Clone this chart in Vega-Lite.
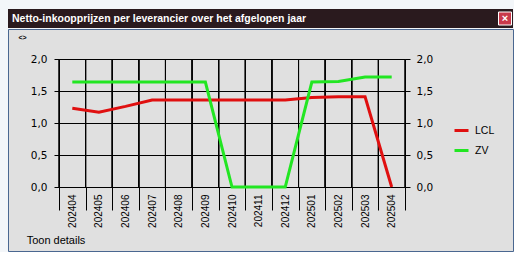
{
  "$schema": "https://vega.github.io/schema/vega-lite/v6.json",
  "background": "#f3f6f9",
  "padding": {"left": 2, "top": 9, "right": 0, "bottom": 0},
  "spacing": 0,
  "config": {"font": "Liberation Sans"},
  "vconcat": [
    {
      "width": 505,
      "height": 19,
      "view": {"fill": "#2a1a1e", "stroke": null},
      "data": {"values": [{"titel": "Netto-inkoopprijzen per leverancier over het afgelopen jaar", "knop": "×"}]},
      "layer": [
        {
          "mark": {"type": "text", "align": "left", "baseline": "middle", "dx": 4, "color": "#ffffff", "font": "Liberation Sans", "fontWeight": "bold", "fontSize": 10.5},
          "encoding": {
            "x": {"datum": 0, "type": "quantitative", "scale": {"domain": [0, 1], "nice": false}, "axis": null},
            "text": {"field": "titel"}
          }
        },
        {
          "mark": {"type": "square", "filled": true, "color": "#c8394b", "stroke": "#ffffff", "strokeWidth": 1, "size": 169, "opacity": 1, "xOffset": -8},
          "encoding": {
            "x": {"datum": 1, "type": "quantitative", "scale": {"domain": [0, 1], "nice": false}, "axis": null}
          }
        },
        {
          "mark": {"type": "text", "align": "center", "baseline": "middle", "dx": -8, "color": "#ffffff", "fontWeight": "bold", "fontSize": 11},
          "encoding": {
            "x": {"datum": 1, "type": "quantitative", "scale": {"domain": [0, 1], "nice": false}, "axis": null},
            "text": {"field": "knop"}
          }
        }
      ]
    },
    {
      "width": 505,
      "height": 222,
      "view": {"fill": "#e0e0e0", "stroke": "#4a6790", "strokeWidth": 1},
      "data": {"values": [
        {"maand": "202404", "leverancier": "LCL", "prijs": 1.23},
        {"maand": "202405", "leverancier": "LCL", "prijs": 1.17},
        {"maand": "202406", "leverancier": "LCL", "prijs": 1.26},
        {"maand": "202407", "leverancier": "LCL", "prijs": 1.36},
        {"maand": "202408", "leverancier": "LCL", "prijs": 1.36},
        {"maand": "202409", "leverancier": "LCL", "prijs": 1.36},
        {"maand": "202410", "leverancier": "LCL", "prijs": 1.36},
        {"maand": "202411", "leverancier": "LCL", "prijs": 1.36},
        {"maand": "202412", "leverancier": "LCL", "prijs": 1.36},
        {"maand": "202501", "leverancier": "LCL", "prijs": 1.40},
        {"maand": "202502", "leverancier": "LCL", "prijs": 1.41},
        {"maand": "202503", "leverancier": "LCL", "prijs": 1.41},
        {"maand": "202504", "leverancier": "LCL", "prijs": 0.0},
        {"maand": "202404", "leverancier": "ZV", "prijs": 1.64},
        {"maand": "202405", "leverancier": "ZV", "prijs": 1.64},
        {"maand": "202406", "leverancier": "ZV", "prijs": 1.64},
        {"maand": "202407", "leverancier": "ZV", "prijs": 1.64},
        {"maand": "202408", "leverancier": "ZV", "prijs": 1.64},
        {"maand": "202409", "leverancier": "ZV", "prijs": 1.64},
        {"maand": "202410", "leverancier": "ZV", "prijs": 0.0},
        {"maand": "202411", "leverancier": "ZV", "prijs": 0.0},
        {"maand": "202412", "leverancier": "ZV", "prijs": 0.0},
        {"maand": "202501", "leverancier": "ZV", "prijs": 1.64},
        {"maand": "202502", "leverancier": "ZV", "prijs": 1.65},
        {"maand": "202503", "leverancier": "ZV", "prijs": 1.72},
        {"maand": "202504", "leverancier": "ZV", "prijs": 1.72}
      ]},
      "layer": [
        {
          "mark": {"type": "rule", "color": "#000000", "strokeWidth": 1},
          "encoding": {
            "x": {"field": "maand", "type": "ordinal", "bandPosition": 0},
            "y": {"datum": 0, "type": "quantitative", "axis": null},
            "y2": {"datum": 2}
          }
        },
        {
          "mark": {"type": "rule", "color": "#000000", "strokeWidth": 1},
          "encoding": {
            "x": {"field": "maand", "type": "ordinal", "bandPosition": 1},
            "y": {"datum": 0, "type": "quantitative", "axis": null},
            "y2": {"datum": 2}
          }
        },
        {
          "mark": {"type": "line", "strokeWidth": 3},
          "encoding": {
            "x": {"field": "maand", "type": "ordinal"},
            "y": {
              "field": "prijs",
              "type": "quantitative",
              "axis": {
                "orient": "left",
                "offset": -51,
                "values": [0, 0.5, 1, 1.5, 2],
                "labelExpr": "replace(format(datum.value, '.1f'), '.', ',')",
                "labelFont": "DejaVu Sans",
                "labelFontSize": 10.5,
                "labelColor": "#000000",
                "labelPadding": 7,
                "tickSize": 5,
                "tickColor": "#000000",
                "domainColor": "#000000",
                "grid": true,
                "gridColor": "#000000",
                "gridOpacity": 1,
                "title": "<>",
                "titleAngle": 0,
                "titleX": -37,
                "titleY": 8.5,
                "titleAlign": "center",
                "titleBaseline": "middle",
                "titleFontSize": 7,
                "titleFontWeight": "bold",
                "titleColor": "#000000"
              }
            },
            "color": {
              "field": "leverancier",
              "type": "nominal",
              "scale": {"domain": ["LCL", "ZV"], "range": ["#e01010", "#22e622"]},
              "legend": {
                "title": null,
                "orient": "none",
                "legendX": 445,
                "legendY": 113,
                "padding": 0,
                "symbolType": "stroke",
                "symbolSize": 196,
                "symbolStrokeWidth": 3,
                "labelOffset": 5,
                "labelFont": "Liberation Sans",
                "labelFontSize": 10.5,
                "labelColor": "#000000",
                "rowPadding": 5
              }
            }
          }
        },
        {
          "mark": {"type": "line", "strokeWidth": 3, "opacity": 0},
          "encoding": {
            "x": {"field": "maand", "type": "ordinal"},
            "y": {
              "field": "prijs",
              "type": "quantitative",
              "axis": {
                "orient": "right",
                "offset": -108,
                "values": [0, 0.5, 1, 1.5, 2],
                "labelExpr": "replace(format(datum.value, '.1f'), '.', ',')",
                "labelFont": "DejaVu Sans",
                "labelFontSize": 10.5,
                "labelColor": "#000000",
                "labelPadding": 6,
                "tickSize": 5,
                "tickColor": "#000000",
                "domainColor": "#000000",
                "grid": false,
                "title": null
              }
            }
          }
        }
      ],
      "encoding": {
        "x": {
          "field": "maand",
          "type": "ordinal",
          "scale": {"type": "band", "paddingInner": 0, "paddingOuter": 0, "range": [51, 397]},
          "axis": {
            "offset": -64,
            "title": "Toon details",
            "titleX": 47.5,
            "titleY": 53,
            "titleAlign": "center",
            "titleBaseline": "middle",
            "titleFont": "Liberation Sans",
            "titleFontSize": 11,
            "titleFontWeight": "normal",
            "titleColor": "#000000",
            "labelAngle": -90,
            "labelFont": "Liberation Sans",
            "labelFontSize": 10,
            "labelColor": "#000000",
            "labelPadding": -16,
            "labelOverlap": false,
            "tickBand": "extent",
            "tickSize": 23,
            "tickColor": "#000000",
            "domainColor": "#000000",
            "grid": false
          }
        },
        "y": {
          "type": "quantitative",
          "scale": {"domain": [0, 2], "nice": false, "range": [158, 30]}
        }
      },
      "resolve": {"scale": {"y": "shared"}, "axis": {"y": "independent"}}
    }
  ]
}
